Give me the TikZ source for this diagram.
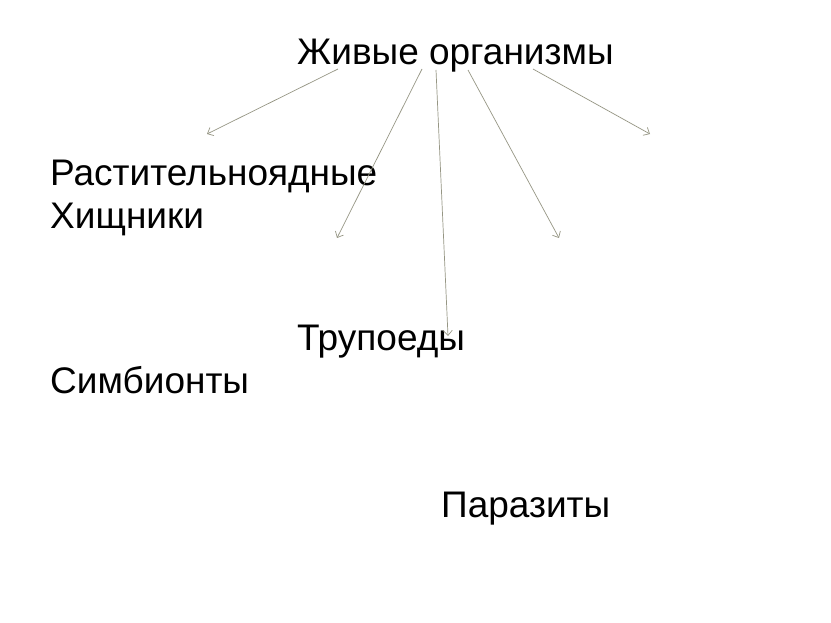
\documentclass[tikz,border=0pt]{standalone}
\usepackage{fontspec}
\setmainfont{Liberation Sans}
\usetikzlibrary{arrows.meta}
\definecolor{arrowgray}{RGB}{150,150,132}
\tikzset{
  lbl/.style={anchor=base west, inner sep=0pt, font=\fontsize{37}{44}\selectfont, text=black},
  conn/.style={draw=arrowgray, line width=0.7pt, -{Straight Barb[length=5pt,width=9pt,line width=0.7pt]}}
}
\begin{document}
\begin{tikzpicture}[x=1pt,y=-1pt]
\useasboundingbox[fill=white] (0,0) rectangle (831,623);
\node[lbl] (root) at (297,65) {Живые организмы};
\node[lbl] (rast) at (50,186) {Растительноядные};
\node[lbl] (hish) at (50,229) {Хищники};
\node[lbl] (trup) at (297,350) {Трупоеды};
\node[lbl] (simb) at (50,393) {Симбионты};
\node[lbl] (para) at (441,517) {Паразиты};
\coordinate (s1) at (338,69);  \coordinate (e1) at (207,134);
\coordinate (s2) at (422,69);  \coordinate (e2) at (337,238);
\coordinate (s3) at (436,70);  \coordinate (e3) at (448,336);
\coordinate (s4) at (468,70);  \coordinate (e4) at (559,238);
\coordinate (s5) at (533,69);  \coordinate (e5) at (650,134);
\draw[conn] (s1) -- (e1);
\draw[conn] (s2) -- (e2);
\draw[conn] (s3) -- (e3);
\draw[conn] (s4) -- (e4);
\draw[conn] (s5) -- (e5);
\end{tikzpicture}
\end{document}
